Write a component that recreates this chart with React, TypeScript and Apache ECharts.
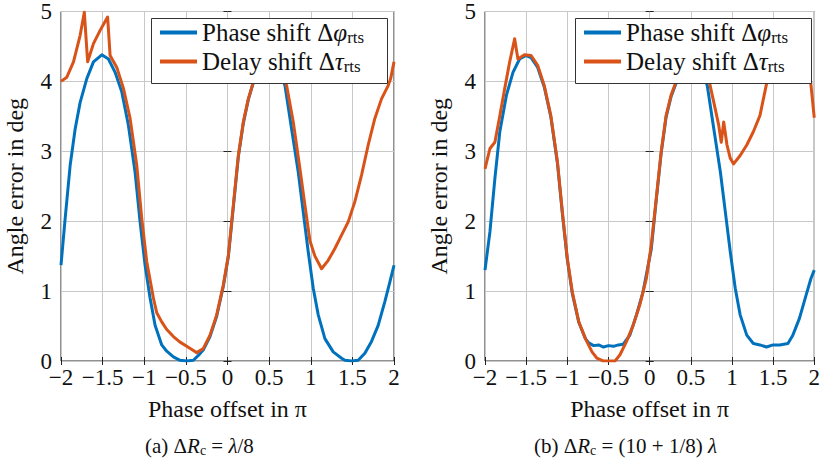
import React, { useEffect, useRef } from 'react';
import * as echarts from 'echarts';

// ---------- data ----------
const phaseAX = [-2, -1.95, -1.89, -1.83, -1.77, -1.69, -1.61, -1.51, -1.43, -1.35, -1.27, -1.19, -1.11, -1.05, -0.99, -0.93, -0.87, -0.79, -0.73, -0.65, -0.57, -0.49, -0.41, -0.35, -0.29, -0.21, -0.13, -0.05, 0.01, 0.07, 0.13, 0.19, 0.25, 0.31, 0.4, 0.5, 0.6, 0.69, 0.77, 0.85, 0.91, 0.97, 1.03, 1.09, 1.17, 1.27, 1.37, 1.41, 1.49, 1.57, 1.65, 1.73, 1.81, 1.89, 1.95, 2.0];
const phaseAY = [1.37, 2.04, 2.8, 3.32, 3.7, 4.04, 4.28, 4.38, 4.32, 4.13, 3.85, 3.37, 2.7, 1.99, 1.37, 0.9, 0.51, 0.23, 0.14, 0.06, 0.01, 0.0, 0.01, 0.08, 0.16, 0.35, 0.64, 1.07, 1.49, 2.2, 2.92, 3.4, 3.74, 3.98, 4.3, 4.38, 4.28, 3.94, 3.32, 2.7, 2.13, 1.56, 1.04, 0.66, 0.32, 0.13, 0.04, 0.01, 0.0, 0.01, 0.11, 0.28, 0.51, 0.85, 1.13, 1.37];

const delayAX = [-2, -1.93, -1.85, -1.77, -1.72, -1.68, -1.61, -1.53, -1.44, -1.41, -1.33, -1.25, -1.17, -1.09, -1.03, -0.97, -0.89, -0.85, -0.79, -0.73, -0.65, -0.57, -0.49, -0.41, -0.37, -0.29, -0.21, -0.13, -0.05, 0.01, 0.07, 0.13, 0.19, 0.25, 0.31, 0.4, 0.5, 0.6, 0.71, 0.79, 0.87, 0.93, 0.99, 1.05, 1.13, 1.21, 1.29, 1.37, 1.45, 1.53, 1.61, 1.69, 1.77, 1.85, 1.93, 1.96, 2.0];
const delayAY = [4.0, 4.06, 4.28, 4.66, 4.99, 4.28, 4.54, 4.73, 4.92, 4.37, 4.2, 3.9, 3.47, 2.8, 2.04, 1.42, 0.9, 0.69, 0.56, 0.45, 0.35, 0.27, 0.21, 0.15, 0.12, 0.18, 0.37, 0.66, 1.09, 1.51, 2.23, 2.94, 3.42, 3.75, 3.99, 4.3, 4.4, 4.3, 3.94, 3.42, 2.75, 2.23, 1.72, 1.5, 1.32, 1.44, 1.61, 1.8, 1.99, 2.28, 2.66, 3.09, 3.47, 3.75, 3.94, 4.04, 4.28];

const phaseBX = [-2, -1.94, -1.88, -1.82, -1.74, -1.66, -1.58, -1.5, -1.44, -1.36, -1.28, -1.2, -1.12, -1.06, -1.0, -0.94, -0.86, -0.78, -0.74, -0.68, -0.62, -0.56, -0.5, -0.44, -0.38, -0.32, -0.24, -0.16, -0.08, 0.02, 0.08, 0.14, 0.2, 0.26, 0.32, 0.4, 0.5, 0.6, 0.7, 0.78, 0.86, 0.92, 0.98, 1.04, 1.1, 1.18, 1.26, 1.34, 1.42, 1.5, 1.58, 1.68, 1.74, 1.82, 1.9, 1.96, 2.0];
const phaseBY = [1.3, 1.85, 2.61, 3.28, 3.8, 4.13, 4.32, 4.37, 4.34, 4.2, 3.92, 3.49, 2.83, 2.11, 1.45, 0.97, 0.55, 0.32, 0.26, 0.22, 0.23, 0.2, 0.22, 0.21, 0.23, 0.24, 0.37, 0.66, 0.99, 1.6, 2.3, 2.97, 3.49, 3.78, 3.97, 4.3, 4.38, 4.3, 3.94, 3.32, 2.7, 2.13, 1.56, 1.04, 0.66, 0.37, 0.25, 0.23, 0.2, 0.23, 0.23, 0.25, 0.37, 0.61, 0.94, 1.18, 1.3];

const delayBX = [-2, -1.94, -1.88, -1.82, -1.76, -1.7, -1.64, -1.6, -1.52, -1.44, -1.36, -1.28, -1.2, -1.12, -1.06, -1.0, -0.94, -0.86, -0.78, -0.7, -0.64, -0.58, -0.56, -0.42, -0.36, -0.28, -0.2, -0.12, -0.04, 0.02, 0.08, 0.14, 0.2, 0.26, 0.32, 0.4, 0.5, 0.6, 0.7, 0.78, 0.84, 0.87, 0.9, 0.94, 0.98, 1.02, 1.1, 1.18, 1.26, 1.34, 1.4, 1.45, 1.55, 1.65, 1.75, 1.85, 1.9, 1.93, 1.96, 2.0];
const delayBY = [2.75, 3.04, 3.13, 3.51, 3.9, 4.28, 4.61, 4.32, 4.38, 4.37, 4.23, 3.94, 3.51, 2.85, 2.13, 1.47, 0.99, 0.56, 0.32, 0.13, 0.04, 0.01, 0.0, 0.0, 0.09, 0.28, 0.51, 0.8, 1.18, 1.66, 2.32, 2.99, 3.51, 3.8, 3.99, 4.3, 4.4, 4.35, 4.13, 3.7, 3.37, 3.13, 3.42, 3.09, 2.9, 2.82, 2.94, 3.09, 3.28, 3.51, 3.85, 4.13, 4.5, 4.7, 4.75, 4.6, 4.45, 4.3, 3.95, 3.48];

const phaseName = 'Phase shift Δφrts';
const delayName = 'Delay shift Δτrts';
const xAxisTitle = 'Phase offset in π';
const yAxisTitle = 'Angle error in deg';

// ---------- styling ----------
const F = 'Liberation Serif';
const BLUE = '#0072BD';
const ORANGE = '#D95319';
const TXT = '#111';

const pairs = (xs: number[], ys: number[]) => xs.map((x, i) => [x, ys[i]]);
const fmtX = (v: number) => String(v).replace('-', '\u2212');

export default function App() {
  const ref = useRef<HTMLDivElement>(null);
  useEffect(() => {
    const chart = echarts.init(ref.current as HTMLDivElement, null, { renderer: 'svg' });
    const gridLefts = [61, 485];
    const legendLefts = [151, 575];
    const grids = gridLefts.map((l) => ({
      left: l, top: 11, width: 333, height: 350,
      show: true, borderColor: '#222', borderWidth: 1, backgroundColor: 'transparent',
    }));
    const tickText = { fontFamily: F, fontSize: 23, color: TXT };
    const nameText = { fontFamily: F, fontSize: 24, color: TXT };
    const xAxes: any[] = [];
    const yAxes: any[] = [];
    gridLefts.forEach((_, g) => {
      xAxes.push({
        type: 'value', gridIndex: g, min: -2, max: 2, interval: 0.5, position: 'bottom',
        axisLine: { show: false },
        axisTick: { show: true, inside: true, length: 4, lineStyle: { color: '#222' } },
        splitLine: { show: true, lineStyle: { color: '#c8c8c8', width: 1 } },
        axisLabel: { formatter: fmtX, ...tickText, margin: 5 },
        name: xAxisTitle, nameLocation: 'middle', nameGap: 36,
        nameTextStyle: { ...nameText },
      });
      xAxes.push({
        type: 'value', gridIndex: g, min: -2, max: 2, interval: 0.5, position: 'top',
        axisLine: { show: false },
        axisTick: { show: true, inside: true, length: 4, lineStyle: { color: '#222' } },
        splitLine: { show: false }, axisLabel: { show: false },
      });
      yAxes.push({
        type: 'value', gridIndex: g, min: 0, max: 5, interval: 1, position: 'left',
        axisLine: { show: false },
        axisTick: { show: true, inside: true, length: 4, lineStyle: { color: '#222' } },
        splitLine: { show: true, lineStyle: { color: '#c8c8c8', width: 1 } },
        axisLabel: { ...tickText, margin: 9 },
        name: yAxisTitle, nameLocation: 'middle', nameGap: 34, nameRotate: 90,
        nameTextStyle: { ...nameText },
      });
      yAxes.push({
        type: 'value', gridIndex: g, min: 0, max: 5, interval: 1, position: 'right',
        axisLine: { show: false },
        axisTick: { show: true, inside: true, length: 4, lineStyle: { color: '#222' } },
        splitLine: { show: false }, axisLabel: { show: false },
      });
    });

    const mk = (name: string, color: string, data: number[][], g: number) => ({
      type: 'line', name, xAxisIndex: g * 2, yAxisIndex: g * 2, data,
      symbol: 'none', showSymbol: false, color,
      lineStyle: { color, width: 3, join: 'round' }, z: 1,
    });

    const legendRich = {
      t: { fontFamily: F, fontSize: 25, color: TXT },
      i: { fontFamily: F, fontSize: 25, fontStyle: 'italic', color: TXT },
      s: { fontFamily: F, fontSize: 17, color: TXT, padding: [10, 0, 0, 0] },
    };
    const legendFmt = (n: string) =>
      n === phaseName ? '{t|Phase shift Δ}{i|φ}{s|rts}' : '{t|Delay shift Δ}{i|τ}{s|rts}';
    const mkLegend = (left: number) => ({
      left, top: 17, orient: 'vertical', data: [phaseName, delayName],
      icon: 'rect', itemWidth: 37, itemHeight: 4, itemGap: 3,
      padding: [3, 12, 5, 9], selectedMode: false, z: 50,
      textStyle: { fontFamily: F, fontSize: 25, color: TXT, rich: legendRich },
      formatter: legendFmt,
    });

    const capRich = {
      n: { fontFamily: F, fontSize: 21, color: TXT },
      i: { fontFamily: F, fontSize: 21, fontStyle: 'italic', color: TXT },
      s: { fontFamily: F, fontSize: 14, color: TXT, padding: [8, 0, 0, 0] },
    };

    chart.setOption({
      animation: false,
      backgroundColor: '#fff',
      textStyle: { fontFamily: F },
      grid: grids,
      xAxis: xAxes,
      yAxis: yAxes,
      legend: legendLefts.map(mkLegend),
      series: [
        mk(phaseName, BLUE, pairs(phaseAX, phaseAY), 0),
        mk(delayName, ORANGE, pairs(delayAX, delayAY), 0),
        mk(phaseName, BLUE, pairs(phaseBX, phaseBY), 1),
        mk(delayName, ORANGE, pairs(delayBX, delayBY), 1),
      ],
      graphic: [
        ...legendLefts.map((l) => ({
          type: 'rect', z: 40, silent: true,
          shape: { x: l + 0.5, y: 18.5, width: 236, height: 65 },
          style: { fill: '#fff', stroke: '#333', lineWidth: 1 },
        })),
        {
          type: 'text', x: 145, y: 446, z: 60,
          style: { text: '{n|(a) Δ}{i|R}{s|c}{n| = }{i|λ}{n|/8}', rich: capRich, verticalAlign: 'middle', fill: TXT },
        },
        {
          type: 'text', x: 534, y: 446, z: 60,
          style: { text: '{n|(b) Δ}{i|R}{s|c}{n| = (10 + 1/8) }{i|λ}', rich: capRich, verticalAlign: 'middle', fill: TXT },
        },
      ],
    });
    return () => chart.dispose();
  }, []);
  return <div ref={ref} style={{ position: 'fixed', left: 0, top: 0, width: 823, height: 463 }} />;
}
